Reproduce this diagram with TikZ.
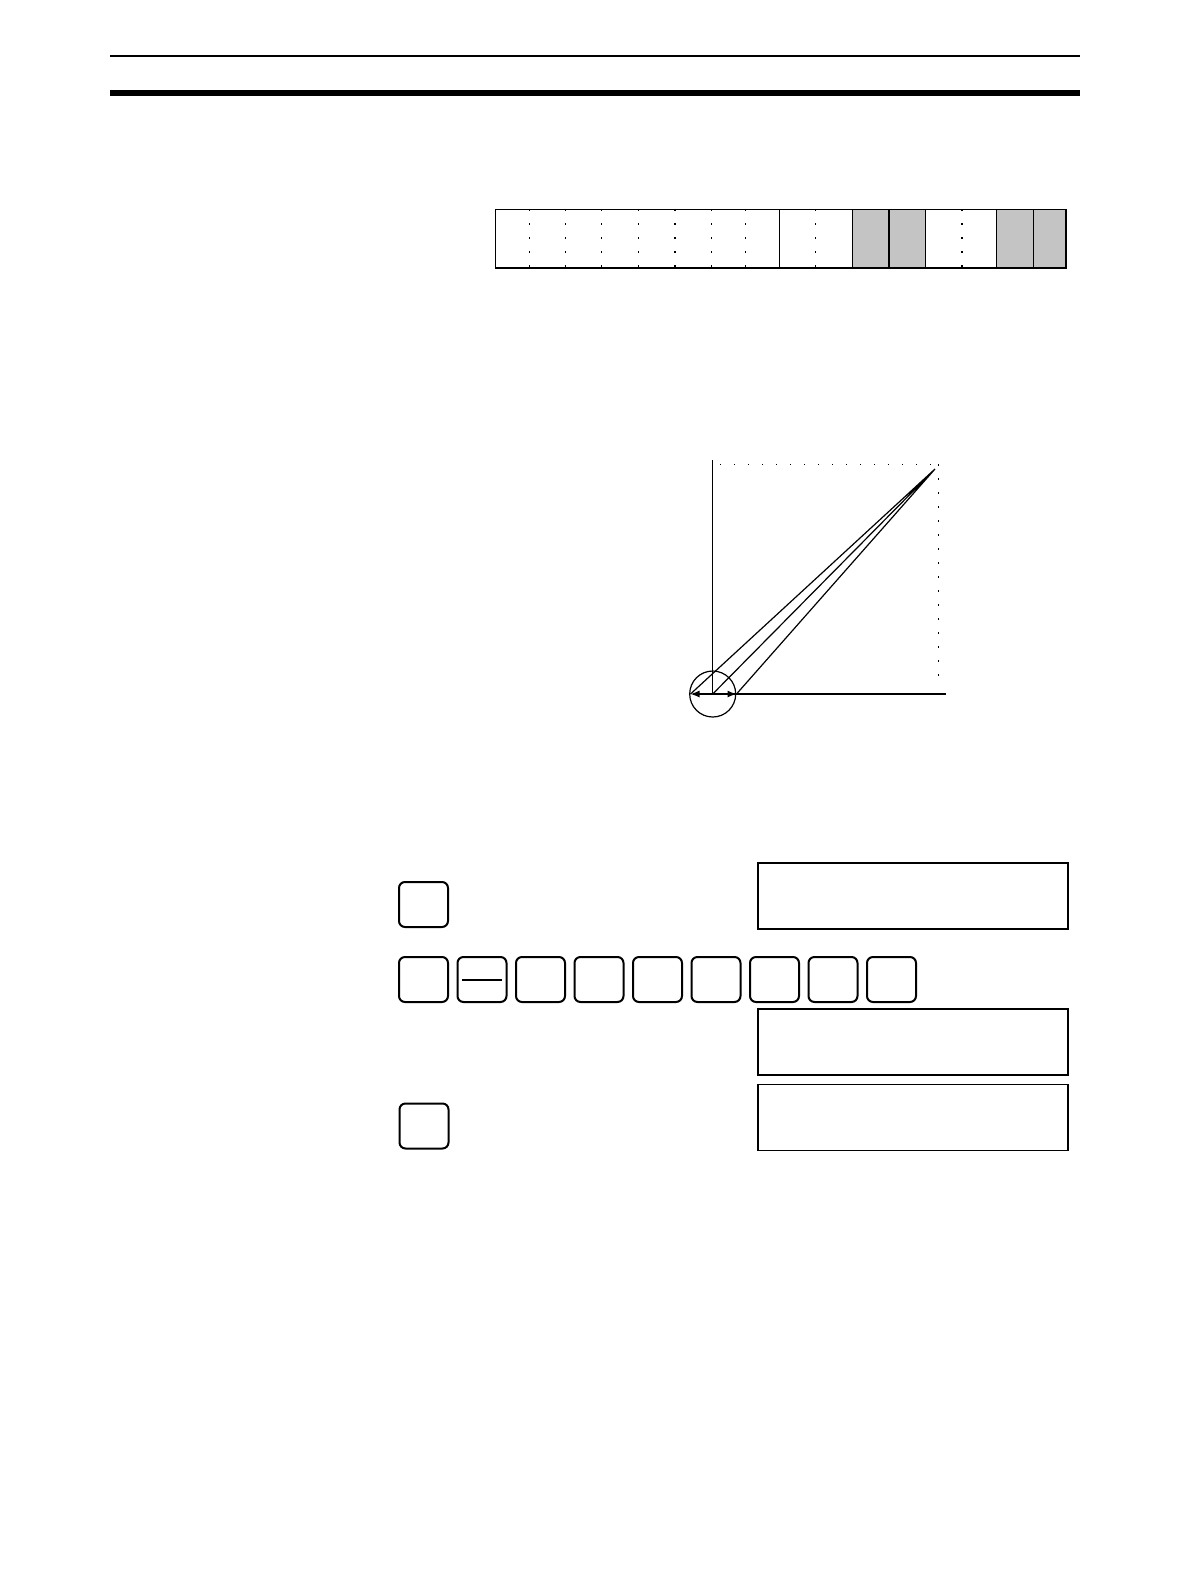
\documentclass[tikz,border=0pt]{standalone}
\usepackage{tikz}
\usetikzlibrary{arrows,arrows.meta,positioning,calc}
\definecolor{cellgray}{gray}{0.77}

\begin{document}
\begin{tikzpicture}[x=0.5pt, y=-0.5pt, >={Latex[length=4.5pt,width=3.5pt]}, semithick]
\tikzstyle{key}=[draw, rounded corners=3pt, line width=1pt, outer sep=0pt, inner sep=0pt, minimum width=24.5pt, minimum height=22.5pt]
\tikzstyle{lcd}=[draw, line width=0.7pt, outer sep=0pt, inner sep=0pt, minimum width=155pt, minimum height=33pt]
\tikzstyle{bitdots}=[line width=0.65pt, dash pattern=on 0.8pt off 6.2pt]
\tikzstyle{griddots}=[line width=0.75pt, dash pattern=on 0.7pt off 6.3pt]
\useasboundingbox (0,0) rectangle (1190,1586);

% page rules
\coordinate (t1) at (110,55.7);   \coordinate (t2) at (1080,55.7);
\coordinate (h1) at (110,92.8);   \coordinate (h2) at (1080,92.8);
\draw[line width=1pt]    (t1) -- (t2);
\draw[line width=2.85pt] (h1) -- (h2);

% word with 16 bits
\coordinate (wtl) at (495.3,209.3);
\coordinate (wbr) at (1066,267.7);
\fill[cellgray] (852.3,209.3) rectangle (925.3,267.7);
\fill[cellgray] (996.4,209.3) rectangle (1066,267.7);
\foreach \x in {529.2,565.7,601.4,638.4,675.1,711.3,745.4,815.8,962.1}
  \draw[bitdots] (\x,209.3) -- (\x,267.7);
\foreach \x in {779.3,852.3,889.1,925.3,996.4,1033.3}
  \draw[line width=0.8pt] (\x,209.3) -- (\x,267.7);
\draw[line width=0.8pt] (wtl) rectangle (wbr);

% graph
\coordinate (O)  at (712.7,694);
\coordinate (P)  at (935,469);
\coordinate (L)  at (690.5,694);
\coordinate (R)  at (736.5,694);
\coordinate (yt) at (712.7,460);
\coordinate (xr) at (946,694);
\coordinate (c1) at (720,464.3);
\coordinate (c2) at (938.5,464.3);
\coordinate (c3) at (938.5,686.7);
\draw[line width=0.65pt] (yt) -- (O) -- (xr);
\draw[griddots] (c1) -- (c2);
\draw[griddots] (c2) -- (c3);
\draw[line width=0.6pt] (P) -- (L)
                        (P) -- (O)
                        (P) -- (R);
\draw[line width=0.6pt] (O) circle[radius=11.5pt];
\draw[->, line width=0.65pt] (O) -- (L);
\draw[->, line width=0.65pt] (O) -- (R);

% key operations
\node[key] (k1)  at (423.5,904.5) {};
\node[key] (k21) at (423.5,979.5) {};
\node[key] (k22) [right=4.75pt of k21] {};
\node[key] (k23) [right=4.75pt of k22] {};
\node[key] (k24) [right=4.75pt of k23] {};
\node[key] (k25) [right=4.75pt of k24] {};
\node[key] (k26) [right=4.75pt of k25] {};
\node[key] (k27) [right=4.75pt of k26] {};
\node[key] (k28) [right=4.75pt of k27] {};
\node[key] (k29) [right=4.75pt of k28] {};
\node[key] (k3)  at (424,1126) {};
\draw[line width=1pt] ($(k22.west)!0.1!(k22.east)$) -- ($(k22.west)!0.9!(k22.east)$);

% displays
\node[lcd] (d1) at (913,896)    {};
\node[lcd] (d2) at (913,1042)   {};
\node[lcd] (d3) at (913,1117.5) {};

\end{tikzpicture}
\end{document}
